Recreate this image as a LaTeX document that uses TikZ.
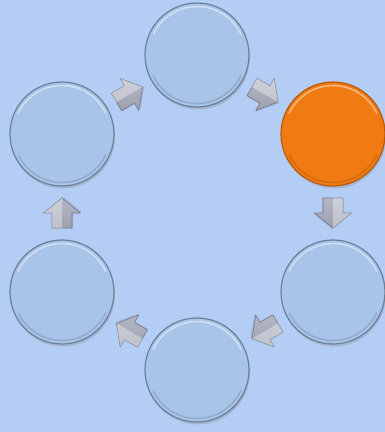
\documentclass[tikz,border=0pt]{standalone}
\usetikzlibrary{calc,shadows}
\definecolor{bg}{HTML}{B4CDF5}
\definecolor{cfill}{HTML}{A8C4E8}
\definecolor{cedge}{HTML}{6A7F98}
\definecolor{ofill}{HTML}{F07B12}
\definecolor{oedge}{HTML}{B85A08}
\definecolor{adark}{HTML}{74778A}
\definecolor{amid}{HTML}{B4B7C6}
\definecolor{alight}{HTML}{F4F5FA}
\begin{document}
\begin{tikzpicture}[x=1pt,y=-1pt,
  bubble/.style={circle,minimum size=104pt,inner sep=0pt,fill=cfill,draw=cedge,line width=1.2pt,
    drop shadow={opacity=0.3,shadow xshift=1pt,shadow yshift=-2.5pt}},
  hot/.style={bubble,fill=ofill,draw=oedge},
  pics/blockarrow/.style={code={
    \path[fill=adark,opacity=0.25] (-14,-9)--(1,-9)--(1,-17.5)--(16.5,1)--(1,19.5)--(1,11)--(-14,11)--cycle;
    \shade[top color=amid,middle color=alight,bottom color=adark!70,draw=adark,line width=0.6pt,line join=round]
      (-15,-10)--(0,-10)--(0,-18.5)--(15,0)--(0,18.5)--(0,10)--(-15,10)--cycle;
    \fill[white,opacity=0.35] (-15,-10)--(0,-10)--(0,-18.5)--(15,0)--(-15,0)--cycle;
  }}]
\fill[bg] (0,0) rectangle (385,432);
\useasboundingbox (0,0) rectangle (385,432);
\node[bubble] (n1) at (197,55) {};
\node[hot] (n2) at (333,134) {};
\node[bubble] (n3) at (333,292) {};
\node[bubble] (n4) at (197,370) {};
\node[bubble] (n5) at (62,292) {};
\node[bubble] (n6) at (62,134) {};
\foreach \n in {n1,n2,n3,n4,n5,n6}{
  \draw[white,opacity=0.45,line width=1.6pt] ([shift={(205:48.5)}]\n.center) arc (205:335:48.5);
  \draw[black,opacity=0.12,line width=1.6pt] ([shift={(25:48.5)}]\n.center) arc (25:155:48.5);
}
\pic[rotate=30] at ($(n6)!0.5!(n1)$) {blockarrow};
\pic[rotate=-30] at ($(n1)!0.5!(n2)$) {blockarrow};
\pic[rotate=-90] at ($(n2)!0.5!(n3)$) {blockarrow};
\pic[rotate=-150] at ($(n3)!0.5!(n4)$) {blockarrow};
\pic[rotate=150] at ($(n4)!0.5!(n5)$) {blockarrow};
\pic[rotate=90] at ($(n5)!0.5!(n6)$) {blockarrow};
\end{tikzpicture}
\end{document}
